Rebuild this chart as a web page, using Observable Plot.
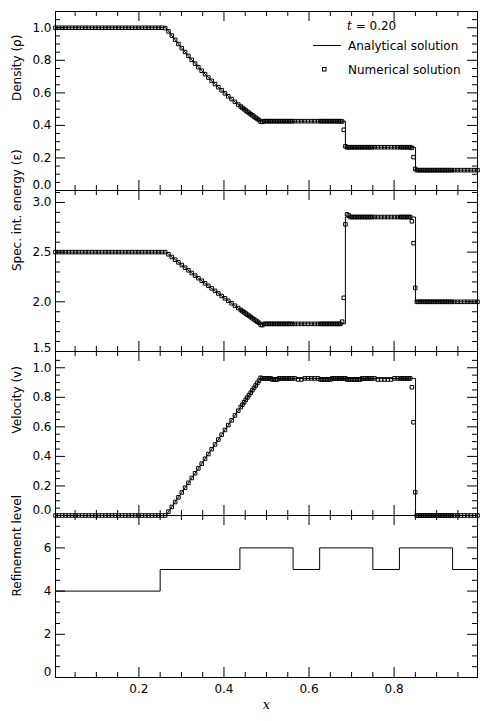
<!DOCTYPE html>
<html><head><meta charset="utf-8">
<script src="https://cdn.jsdelivr.net/npm/d3@7"></script>
<script src="https://cdn.jsdelivr.net/npm/@observablehq/plot@0.6"></script>
<style>
body{margin:0;background:#fff;}
#chart{width:488px;}
#chart svg{display:block;overflow:visible;}
</style></head><body><div id="chart"></div>
<script>
// ---------------- data ----------------
// Mesh used by the numerical solution (block edges and number of cells per block)
const meshEdges = [0, 0.4375, 0.5625, 0.625, 0.75, 0.8125, 0.9375, 1];
const meshCells = [56, 32, 8, 32, 8, 32, 8];

// Analytical solution (t = 0.20)
const analyticX = [0.0039, 0.2634, 0.28, 0.30, 0.32, 0.34, 0.36, 0.38, 0.40, 0.42, 0.44, 0.46, 0.4859, 0.6855, 0.6855, 0.8504, 0.8504, 0.9961];
const analyticDensity = [1, 1, 0.943, 0.877, 0.816, 0.758, 0.703, 0.651, 0.603, 0.557, 0.515, 0.475, 0.426, 0.426, 0.266, 0.266, 0.125, 0.125];
const analyticEnergy = [2.5, 2.5, 2.442, 2.373, 2.305, 2.237, 2.171, 2.106, 2.042, 1.979, 1.917, 1.856, 1.778, 1.778, 2.853, 2.853, 2.0, 2.0];
const analyticVelocity = [0, 0, 0.069, 0.153, 0.236, 0.319, 0.403, 0.486, 0.569, 0.653, 0.736, 0.819, 0.928, 0.928, 0.928, 0.928, 0, 0];

// Numerical solution, one value per cell
const numDensity = [
  1,1,1,1,1,1,1,1,1,1, 1,1,1,1,1,1,1,1,1,1, 1,1,1,1,1,1,1,1,1,1, 1,1,1,0.998,
  0.978,0.952,0.926,0.900,0.875,0.851,0.827,0.803,0.780,0.758,0.736,0.715,0.694,0.674,0.654,0.635,0.616,0.597,0.579,0.562,0.545,0.528,
  0.516,0.508,0.500,0.492,0.484,0.477,0.469,0.462,0.454,0.447,0.440,0.433, 0.423,0.422,
  0.426,0.426,0.426,0.426,0.426,0.426,0.426,0.426,0.426,0.426,0.426,0.426,0.426,0.426,0.426,0.426,0.426,0.426,
  0.426,0.426,0.426,0.426,0.426,0.426,0.426,0.426,
  0.426,0.426,0.426,0.426,0.426,0.426,0.426,0.426,0.426,0.426,0.426,0.426,0.426, 0.424,0.373,0.272,0.265,
  0.266,0.266,0.266,0.266,0.266,0.266,0.266,0.266,0.266,0.266,0.266,0.266,0.266,0.266,0.266,
  0.266,0.266,0.266,0.266,0.266,0.266,0.266,0.266,
  0.266,0.266,0.266,0.266,0.266,0.266,0.266, 0.262,0.205,0.133,
  0.125,0.125,0.125,0.125,0.125,0.125,0.125,0.125,0.125,0.125,0.125,0.125,0.125,0.125,0.125,0.125,0.125,0.125,0.125,0.125,0.125,0.125,
  0.125,0.125,0.125,0.125,0.125,0.125,0.125,0.125
];
const numEnergy = [
  2.5,2.5,2.5,2.5,2.5,2.5,2.5,2.5,2.5,2.5, 2.5,2.5,2.5,2.5,2.5,2.5,2.5,2.5,2.5,2.5, 2.5,2.5,2.5,2.5,2.5,2.5,2.5,2.5,2.5,2.5, 2.5,2.5,2.5,2.5,
  2.478,2.451,2.424,2.397,2.370,2.343,2.317,2.290,2.264,2.238,2.212,2.186,2.161,2.135,2.110,2.084,2.059,2.035,2.010,1.985,1.961,1.937,
  1.918,1.906,1.894,1.882,1.870,1.859,1.847,1.835,1.823,1.811,1.800,1.788, 1.768,1.766,
  1.778,1.778,1.778,1.778,1.778,1.778,1.778,1.778,1.778,1.778,1.778,1.778,1.778,1.778,1.778,1.778,1.778,1.778,
  1.778,1.778,1.778,1.778,1.778,1.778,1.778,1.778,
  1.778,1.778,1.778,1.778,1.778,1.778,1.778,1.778,1.778,1.778,1.778,1.778,1.778, 1.80,2.04,2.78,2.88,2.87,
  2.853,2.853,2.853,2.853,2.853,2.853,2.853,2.853,2.853,2.853,2.853,2.853,2.853,2.853,
  2.853,2.853,2.853,2.853,2.853,2.853,2.853,2.853,
  2.853,2.853,2.853,2.853,2.853,2.853,2.853, 2.81,2.59,2.14,
  2.0,2.0,2.0,2.0,2.0,2.0,2.0,2.0,2.0,2.0,2.0,2.0,2.0,2.0,2.0,2.0,2.0,2.0,2.0,2.0,2.0,2.0,
  2.0,2.0,2.0,2.0,2.0,2.0,2.0,2.0
];
const numVelocity = [
  0,0,0,0,0,0,0,0,0,0, 0,0,0,0,0,0,0,0,0,0, 0,0,0,0,0,0,0,0,0,0, 0,0,0,0,
  0.026,0.058,0.091,0.123,0.156,0.188,0.221,0.254,0.286,0.319,0.351,0.384,0.416,0.449,0.481,0.514,0.547,0.579,0.612,0.644,0.677,0.709,
  0.734,0.750,0.766,0.783,0.799,0.815,0.831,0.848,0.864,0.880,0.897,0.913,
  0.932, 0.928,0.928,0.928,0.928,0.928,0.928, 0.921,0.921,0.921,0.921, 0.928,0.928,0.928,0.928,0.928,0.928,0.928,0.928,0.928,
  0.928,0.921,0.921,0.928,0.928,0.928,0.928,0.928,
  0.921,0.921,0.921,0.921,0.921,0.921,0.921, 0.928,0.928,0.928,0.928,0.928,0.928,0.928,0.928,0.928,
  0.921,0.921,0.921,0.921,0.921,0.921,0.921,0.921,0.921, 0.928,0.928,0.928,0.928,0.928,0.928,0.928,
  0.928,0.921,0.921,0.921,0.921,0.921,0.928,0.928,
  0.928,0.928,0.928,0.928,0.928,0.928,0.928, 0.868,0.631,0.157,
  0,0,0,0,0,0,0,0,0,0,0,0,0,0,0,0,0,0,0,0,0,0,
  0,0,0,0,0,0,0,0
];

// Refinement level (step function)
const levelX = [0, 0.25, 0.4375, 0.5625, 0.625, 0.75, 0.8125, 0.9375, 1];
const levelValue = [4, 5, 6, 5, 6, 5, 6, 5, 5];

// Ticks
const xMajor = [0.2, 0.4, 0.6, 0.8];
const xMinor = [0.05, 0.1, 0.15, 0.25, 0.3, 0.35, 0.45, 0.5, 0.55, 0.65, 0.7, 0.75, 0.85, 0.9, 0.95];
const densityMajor = [0, 0.2, 0.4, 0.6, 0.8, 1.0];
const densityMinor = [0.05,0.1,0.15,0.25,0.3,0.35,0.45,0.5,0.55,0.65,0.7,0.75,0.85,0.9,0.95,1.05];
const energyMajor = [1.5, 2.0, 2.5, 3.0];
const energyMinor = [1.6,1.7,1.8,1.9,2.1,2.2,2.3,2.4,2.6,2.7,2.8,2.9,3.1];
const velocityMajor = [0, 0.2, 0.4, 0.6, 0.8, 1.0];
const velocityMinor = [0.05,0.1,0.15,0.25,0.3,0.35,0.45,0.5,0.55,0.65,0.7,0.75,0.85,0.9,0.95,1.05];
const levelMajor = [0, 2, 4, 6];
const levelMinor = [0.5,1,1.5,2.5,3,3.5,4.5,5,5.5,6.5,7];

// ---------------- build ----------------
const xCells = [];
meshCells.forEach((n, s) => {
  const dx = (meshEdges[s + 1] - meshEdges[s]) / n;
  for (let k = 0; k < n; k++) xCells.push(meshEdges[s] + (k + 0.5) * dx);
});
const cells = xCells.map((x, i) => ({x, rho: numDensity[i], e: numEnergy[i], v: numVelocity[i]}));
const analytic = analyticX.map((x, i) => ({x, rho: analyticDensity[i], e: analyticEnergy[i], v: analyticVelocity[i]}));
const levels = levelX.map((x, i) => ({x, level: levelValue[i]}));

const FONT = "DejaVu Sans";
const W = 488, ML = 55, MR = 11;
const IW = W - ML - MR;
const xDomain = [1 / 256, 1 - 1 / 256];
const f1 = d3.format(".1f"), f0 = d3.format("d");

function panel({height, marginTop = 0, marginBottom = 0, yDomain, yMajor, yMinor, fmt, lowShift, title, marks, bottom = false}) {
  const H = height - marginTop - marginBottom;
  const axisMarks = [
    Plot.tickY(yMajor, {y: d => d, insetRight: IW - 10, stroke: "black"}),
    Plot.tickY(yMajor, {y: d => d, insetLeft: IW - 10, stroke: "black"}),
    Plot.tickY(yMinor, {y: d => d, insetRight: IW - 5, stroke: "black"}),
    Plot.tickY(yMinor, {y: d => d, insetLeft: IW - 5, stroke: "black"}),
    Plot.tickX(xMajor, {x: d => d, insetBottom: H - 10, stroke: "black"}),
    Plot.tickX(xMajor, {x: d => d, insetTop: H - 10, stroke: "black"}),
    Plot.tickX(xMinor, {x: d => d, insetBottom: H - 5, stroke: "black"}),
    Plot.tickX(xMinor, {x: d => d, insetTop: H - 5, stroke: "black"}),
    Plot.text(yMajor.slice(1), {y: d => d, text: d => fmt(d), frameAnchor: "left", textAnchor: "end", dx: -4}),
    Plot.text(yMajor.slice(0, 1), {y: d => d, text: d => fmt(d), frameAnchor: "left", textAnchor: "end", dx: -4, dy: lowShift}),
    Plot.text([title], {frameAnchor: "left", rotate: -90, dx: -38})
  ];
  if (bottom) {
    axisMarks.push(Plot.text(xMajor, {x: d => d, text: d => f1(d), frameAnchor: "bottom", dy: 15}));
    axisMarks.push(Plot.text(["x"], {frameAnchor: "bottom", dy: 31, fontStyle: "italic", fontFamily: "DejaVu Serif", fontSize: 13}));
  }
  return Plot.plot({
    width: W, height, marginLeft: ML, marginRight: MR, marginTop, marginBottom,
    x: {domain: xDomain, axis: null},
    y: {domain: yDomain, axis: null},
    style: {background: "transparent", overflow: "visible", fontFamily: FONT, fontSize: "12px", color: "black"},
    marks: [...marks, Plot.frame({stroke: "black"}), ...axisMarks]
  });
}

const sq = {symbol: "square", r: 2.0, stroke: "black", strokeWidth: 1, fill: "none"};
const ln = {stroke: "black", strokeWidth: 1, clip: true};

const p1 = panel({
  height: 190, marginTop: 11, yDomain: [0, 1.1], yMajor: densityMajor, yMinor: densityMinor,
  fmt: f1, lowShift: -5, title: "Density (ρ)",
  marks: [Plot.line(analytic, {x: "x", y: "rho", ...ln}), Plot.dot(cells, {x: "x", y: "rho", ...sq})]
});
const p2 = panel({
  height: 161, yDomain: [1.5, 3.12], yMajor: energyMajor, yMinor: energyMinor,
  fmt: f1, lowShift: -3, title: "Spec. int. energy (ε)",
  marks: [Plot.line(analytic, {x: "x", y: "e", ...ln}), Plot.dot(cells, {x: "x", y: "e", ...sq})]
});
const p3 = panel({
  height: 164, yDomain: [0, 1.11], yMajor: velocityMajor, yMinor: velocityMinor,
  fmt: f1, lowShift: -5, title: "Velocity (v)",
  marks: [Plot.line(analytic, {x: "x", y: "v", ...ln}), Plot.dot(cells, {x: "x", y: "v", ...sq})]
});
const p4 = panel({
  height: 206, marginBottom: 44, yDomain: [0, 7.5], yMajor: levelMajor, yMinor: levelMinor,
  fmt: f0, lowShift: -5, title: "Refinement level", bottom: true,
  marks: [Plot.line(levels, {x: "x", y: "level", curve: "step-after", ...ln})]
});

const root = document.getElementById("chart");
[p1, p2, p3, p4].forEach(p => root.appendChild(p));

// Legend inside the top panel
const lg = d3.select(p1).append("g").attr("font-family", FONT).attr("font-size", 12).attr("fill", "black").attr("text-anchor", "start");
const tline = lg.append("text").attr("x", 347).attr("y", 29.5).attr("text-anchor", "start");
tline.append("tspan").attr("font-style", "italic").attr("font-family", "DejaVu Serif").text("t");
tline.append("tspan").text(" = 0.20");
lg.append("line").attr("x1", 313).attr("x2", 341).attr("y1", 45.5).attr("y2", 45.5).attr("stroke", "black").attr("stroke-width", 1);
lg.append("text").attr("x", 348).attr("y", 50).attr("text-anchor", "start").text("Analytical solution");
lg.append("rect").attr("x", 322.5).attr("y", 67.5).attr("width", 3.5).attr("height", 3.5).attr("fill", "none").attr("stroke", "black");
lg.append("text").attr("x", 348).attr("y", 73.5).attr("text-anchor", "start").text("Numerical solution");
</script></body></html>
